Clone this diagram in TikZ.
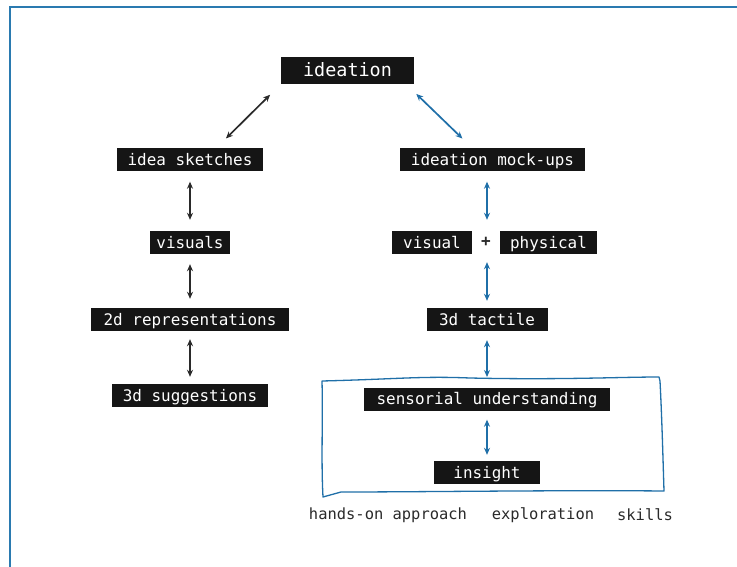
\documentclass[tikz,border=0pt]{standalone}
\usepackage{fontspec}
\newfontfamily\boxfont{DejaVu Sans Mono}
\usetikzlibrary{arrows.meta,calc}
\definecolor{frameblue}{HTML}{2A7AB0}
\definecolor{arrblue}{HTML}{1F6FA8}
\definecolor{boxblack}{HTML}{151515}
\definecolor{txtgray}{HTML}{2A2A2A}
\begin{document}
\begin{tikzpicture}[x=1bp,y=-1bp,
  lbl/.style={fill=boxblack, text=white, font=\boxfont\fontsize{16}{18}\selectfont,
    inner xsep=0pt, inner ysep=0pt, minimum height=23bp, text height=12bp, text depth=1bp},
  bigl/.style={lbl, font=\boxfont\fontsize{18.5}{22}\selectfont, minimum height=27bp, text height=14bp, text depth=1.5bp},
  plain/.style={text=txtgray, font=\boxfont\fontsize{15.5}{18}\selectfont, inner sep=0pt},
  blk/.style={draw=txtgray, line width=1.7bp, {Stealth[length=7bp,width=6bp]}-{Stealth[length=7bp,width=6bp]}},
  blu/.style={draw=arrblue, line width=1.7bp, {Stealth[length=7bp,width=6bp]}-{Stealth[length=7bp,width=6bp]}},
]
\useasboundingbox (0,0) rectangle (737,567);
\fill[white] (0,0) rectangle (737,567);
\draw[frameblue, line width=2.4bp] (10,567) -- (10,7) -- (737,7);

% nodes
\node[bigl, minimum width=133bp] (ideation) at (347.5,70.5) {ideation};
\node[lbl, minimum width=146bp] (sketch) at (190,160) {idea sketches};
\node[lbl, minimum width=185bp] (mock) at (492.5,160) {ideation mock-ups};
\node[lbl, minimum width=80bp] (visuals) at (190,242.5) {visuals};
\node[lbl, minimum width=80bp] (visual) at (432,242.5) {visual};
\node[plain, font=\boxfont\bfseries\fontsize{16}{18}\selectfont] (plus) at (486,242) {+};
\node[lbl, minimum width=97bp] (physical) at (548.5,242.5) {physical};
\node[lbl, minimum width=198bp] (rep2d) at (190,319.5) {2d representations};
\node[lbl, minimum width=121bp] (tactile) at (487,319.5) {3d tactile};
\node[lbl, minimum width=156bp] (sugg) at (190,395.5) {3d suggestions};
\node[lbl, minimum width=246bp] (sensor) at (487,399) {sensorial understanding};
\node[lbl, minimum width=106bp] (insight) at (487,472.5) {insight};

\node[plain] (hands) at (388,515) {hands-on approach};
\node[plain] (explor) at (543,515) {exploration};
\node[plain] (skills) at (645,515) {skills};

% hand-drawn blue box
\draw[arrblue, line width=1.3bp, line join=round]
  (322,381) .. controls (400,379) and (420,376) .. (470,378)
  .. controls (560,380) and (620,377) .. (659,377)
  -- (660,381)
  .. controls (662,420) and (663,460) .. (664,491)
  .. controls (560,490) and (420,492) .. (341,492)
  -- (323,497)
  .. controls (321,460) and (323,420) .. (322,381) -- cycle;
\coordinate (boxtop) at (487,378);

% connectors
\draw[blk, shorten <=14bp, shorten >=15bp] ($(sketch.north)+(26,0)$) -- (ideation.south west);
\draw[blu, shorten <=14bp, shorten >=14bp] ($(ideation.south east)+(-8,0)$) -- ($(mock.north)+(-20,0)$);
\draw[blk, shorten <=10bp, shorten >=11bp] (sketch.south) -- (visuals.north);
\draw[blk, shorten <=10bp, shorten >=9bp] (visuals.south) -- (rep2d.north);
\draw[blk, shorten <=8bp, shorten >=7bp] (rep2d.south) -- (sugg.north);
\draw[blu, shorten <=10bp, shorten >=11bp] (mock.south -| tactile) -- (tactile |- visual.north);
\draw[blu, shorten <=8bp, shorten >=7bp] (tactile |- visual.south) -- (tactile.north);
\draw[blu, shorten <=9bp, shorten >=1bp] (tactile.south) -- (boxtop);
\draw[blu, shorten <=9bp, shorten >=6bp] (sensor.south) -- (insight.north);
\end{tikzpicture}
\end{document}
